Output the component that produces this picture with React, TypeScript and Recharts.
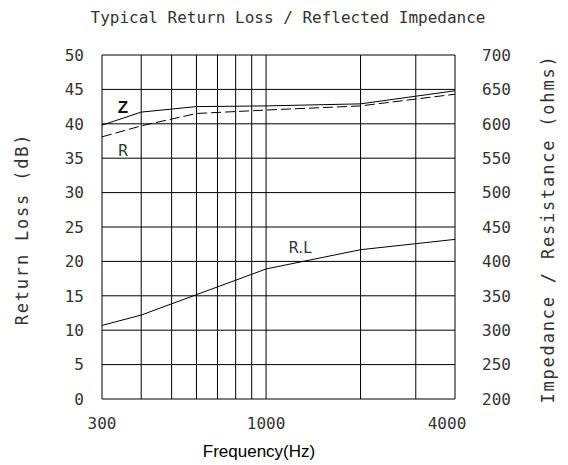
import React from 'react';
import { LineChart, Line, XAxis, YAxis, CartesianGrid } from 'recharts';

// frequency grid (Hz) and labelled ticks
const gridFreqs = [300, 400, 500, 600, 700, 800, 900, 1000, 2000, 3000, 4000];
const labelledFreqs = [300, 1000, 4000];
const dbTicks = [0, 5, 10, 15, 20, 25, 30, 35, 40, 45, 50];
const ohmTicks = [200, 250, 300, 350, 400, 450, 500, 550, 600, 650, 700];

// impedance Z (ohms)
const zFreqs = [300, 400, 600, 1000, 2000, 4000];
const zOhms = [598, 617, 625, 626, 629, 648];

// resistance R (ohms)
const rFreqs = [300, 400, 600, 1000, 2000, 4000];
const rOhms = [581, 597, 615, 620, 626, 643];

// return loss (dB)
const rlFreqs = [300, 400, 1000, 2000, 4000];
const rlDb = [10.7, 12.2, 18.9, 21.7, 23.2];

const zData = zFreqs.map((f, i) => ({ freq: f, z: zOhms[i] }));
const rData = rFreqs.map((f, i) => ({ freq: f, r: rOhms[i] }));
const rlData = rlFreqs.map((f, i) => ({ freq: f, rl: rlDb[i] }));

const CAD = '"DejaVu Sans Mono", monospace';
const INK = '#333';

const FreqTick = (props: any) => {
  const { x, y, payload } = props;
  if (!labelledFreqs.includes(payload.value)) return <g />;
  const shift = payload.value === 4000 ? -8 : 0;
  return (
    <text x={x + shift} y={y} dy="0.71em" textAnchor="middle" fontFamily={CAD} fontSize={16} fill={INK}>
      {payload.value}
    </text>
  );
};

const LeftTick = (props: any) => {
  const { x, y, payload } = props;
  return (
    <text x={x} y={y} dy="0.36em" textAnchor="end" fontFamily={CAD} fontSize={16} fill={INK}>
      {payload.value}
    </text>
  );
};

const RightTick = (props: any) => {
  const { x, y, payload } = props;
  return (
    <text x={x} y={y} dy="0.36em" textAnchor="start" fontFamily={CAD} fontSize={16} fill={INK}>
      {payload.value}
    </text>
  );
};

export default function App() {
  return (
    <div style={{ position: 'absolute', left: 0, top: 0, width: 568, height: 465, background: '#fff' }}>
      <LineChart width={568} height={465} margin={{ top: 55, right: 53, bottom: 36, left: 42 }}>
        <CartesianGrid yAxisId="left" stroke="#000" strokeWidth={1} />
        <XAxis
          dataKey="freq"
          type="number"
          scale="log"
          domain={[300, 4000]}
          allowDataOverflow
          ticks={gridFreqs}
          interval={0}
          axisLine={false}
          tickLine={false}
          tickSize={0}
          tickMargin={19}
          height={30}
          tick={<FreqTick />}
        />
        <YAxis
          yAxisId="left"
          domain={[0, 50]}
          ticks={dbTicks}
          interval={0}
          width={60}
          axisLine={false}
          tickLine={false}
          tickSize={0}
          tickMargin={18}
          tick={<LeftTick />}
        />
        <YAxis
          yAxisId="right"
          orientation="right"
          domain={[200, 700]}
          ticks={ohmTicks}
          interval={0}
          width={60}
          axisLine={false}
          tickLine={false}
          tickSize={0}
          tickMargin={27}
          tick={<RightTick />}
        />
        <Line
          yAxisId="right"
          data={zData}
          dataKey="z"
          type="linear"
          stroke="#000"
          strokeWidth={1}
          dot={false}
          isAnimationActive={false}
        />
        <Line
          yAxisId="right"
          data={rData}
          dataKey="r"
          type="linear"
          stroke="#000"
          strokeWidth={1}
          strokeDasharray="10 4"
          dot={false}
          isAnimationActive={false}
        />
        <Line
          yAxisId="left"
          data={rlData}
          dataKey="rl"
          type="linear"
          stroke="#000"
          strokeWidth={1}
          dot={false}
          isAnimationActive={false}
        />
        <text x={288} y={23} textAnchor="middle" fontFamily={CAD} fontSize={16} fill={INK}>
          Typical Return Loss / Reflected Impedance
        </text>
        <text
          x={22}
          y={229}
          transform="rotate(-90 22 229)"
          dy="0.36em"
          textAnchor="middle"
          fontFamily={CAD}
          fontSize={17}
          letterSpacing={1.8}
          fill={INK}
        >
          Return Loss (dB)
        </text>
        <text
          x={548}
          y={229}
          transform="rotate(-90 548 229)"
          dy="0.36em"
          textAnchor="middle"
          fontFamily={CAD}
          fontSize={17}
          letterSpacing={1.8}
          fill={INK}
        >
          Impedance / Resistance (ohms)
        </text>
        <text x={259} y={457} textAnchor="middle" fontFamily='"Liberation Sans", Arial, sans-serif' fontSize={17} fill="#000">
          Frequency(Hz)
        </text>
        <text x={123} y={113} textAnchor="middle" fontFamily='"Liberation Sans", Arial, sans-serif' fontSize={17} fontWeight="bold" fill="#111">
          Z
        </text>
        <text x={123} y={156} textAnchor="middle" fontFamily={CAD} fontSize={16} fill={INK}>
          R
        </text>
        <text x={300} y={253} textAnchor="middle" fontFamily='"DejaVu Sans", sans-serif' fontSize={15} fill={INK}>
          R.L
        </text>
      </LineChart>
    </div>
  );
}
